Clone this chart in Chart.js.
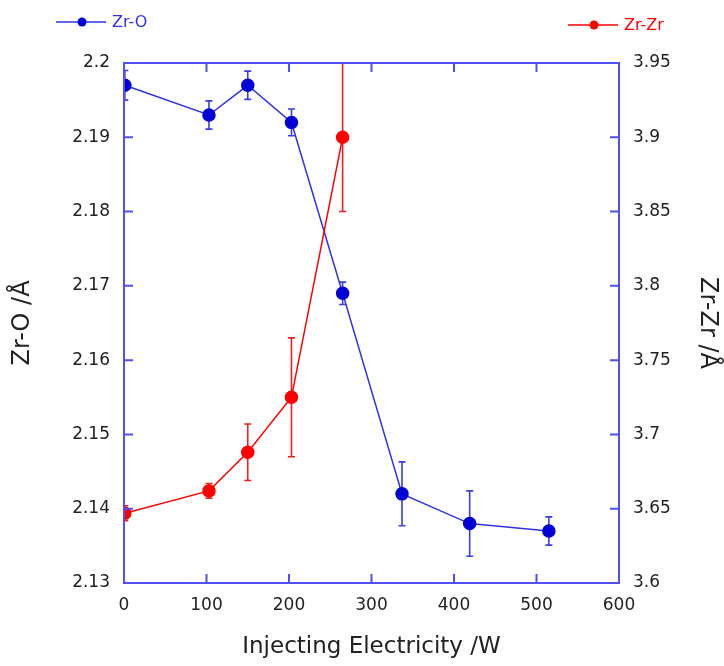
<!DOCTYPE html>
<html>
<head>
<meta charset="utf-8">
<script src="https://cdn.jsdelivr.net/npm/chart.js@4"></script>
<style>
  body { margin: 0; background: white; }
  #wrap { width: 724px; height: 666px; position: relative; }
</style>
</head>
<body>
<div id="wrap"><canvas id="myChart"></canvas></div>
<script>
// data
const wattsZrO = [1, 103, 150, 203, 265, 337, 419, 515];
const zrO = [2.197, 2.193, 2.197, 2.192, 2.169, 2.142, 2.138, 2.137];
const zrOErr = [0.002, 0.0019, 0.0019, 0.0018, 0.0015, 0.0043, 0.0044, 0.0019];

const wattsZrZr = [1, 103, 150, 203, 265];
const zrZr = [3.647, 3.662, 3.688, 3.725, 3.9];
const zrZrErr = [0.005, 0.005, 0.019, 0.04, 0.05];

const frameColor = "rgb(80, 80, 245)";
const font = "'DejaVu Sans', Verdana, sans-serif";

function toPoints(xs, ys) {
  return xs.map(function (x, i) { return { x: x, y: ys[i] }; });
}

// error bars, drawn under the markers
const errorBarPlugin = {
  id: "errorBars",
  beforeDatasetsDraw: function (chart) {
    const ctx = chart.ctx;
    const area = chart.chartArea;
    ctx.save();
    ctx.beginPath();
    ctx.rect(area.left, area.top - 1, area.right - area.left, area.bottom - area.top + 2);
    ctx.clip();
    chart.data.datasets.forEach(function (ds) {
      const xs = chart.scales.x;
      const ys = chart.scales[ds.yAxisID];
      ctx.strokeStyle = ds.errColor;
      ctx.lineWidth = 1.6;
      ds.data.forEach(function (p, i) {
        const e = ds.errors[i];
        const px = xs.getPixelForValue(p.x);
        const top = ys.getPixelForValue(p.y + e);
        const bot = ys.getPixelForValue(p.y - e);
        ctx.beginPath();
        ctx.moveTo(px, top); ctx.lineTo(px, bot);
        ctx.moveTo(px - 3.5, top); ctx.lineTo(px + 3.5, top);
        ctx.moveTo(px - 3.5, bot); ctx.lineTo(px + 3.5, bot);
        ctx.stroke();
      });
    });
    ctx.restore();
  },
};

// box frame with inward ticks on all four sides, plus the split legend
const framePlugin = {
  id: "frame",
  afterDraw: function (chart) {
    const ctx = chart.ctx;
    const a = chart.chartArea;
    const tl = 9;
    ctx.save();
    ctx.strokeStyle = frameColor;
    ctx.lineWidth = 2;
    ctx.strokeRect(a.left, a.top, a.right - a.left, a.bottom - a.top);
    ctx.beginPath();
    chart.scales.x.ticks.forEach(function (t) {
      const px = chart.scales.x.getPixelForValue(t.value);
      ctx.moveTo(px, a.bottom); ctx.lineTo(px, a.bottom - tl);
      ctx.moveTo(px, a.top); ctx.lineTo(px, a.top + tl);
    });
    chart.scales.y.ticks.forEach(function (t) {
      const py = chart.scales.y.getPixelForValue(t.value);
      ctx.moveTo(a.left, py); ctx.lineTo(a.left + tl, py);
    });
    chart.scales.y2.ticks.forEach(function (t) {
      const py = chart.scales.y2.getPixelForValue(t.value);
      ctx.moveTo(a.right, py); ctx.lineTo(a.right - tl, py);
    });
    ctx.stroke();

    // legend entries: first at top left, second at top right
    const spots = [{ x: 56, y: 22 }, { x: 568, y: 25 }];
    chart.data.datasets.forEach(function (ds, i) {
      const s = spots[i];
      ctx.strokeStyle = ds.borderColor;
      ctx.lineWidth = 1.5;
      ctx.beginPath();
      ctx.moveTo(s.x, s.y); ctx.lineTo(s.x + 50, s.y);
      ctx.stroke();
      ctx.fillStyle = ds.pointBackgroundColor;
      ctx.beginPath();
      ctx.arc(s.x + 26, s.y, 4.5, 0, Math.PI * 2);
      ctx.fill();
      ctx.fillStyle = ds.borderColor;
      ctx.font = "16px " + font;
      ctx.textBaseline = "middle";
      ctx.fillText(ds.label, s.x + 56, s.y + 1);
    });
    ctx.restore();
  },
};

const ctx = document.getElementById("myChart").getContext("2d");

new Chart(ctx, {
  type: "scatter",
  data: {
    datasets: [
      {
        label: "Zr-O",
        data: toPoints(wattsZrO, zrO),
        errors: zrOErr,
        errColor: "rgb(60, 60, 230)",
        yAxisID: "y",
        showLine: true,
        borderColor: "rgb(50, 50, 230)",
        borderWidth: 1.5,
        pointBackgroundColor: "rgb(0, 0, 215)",
        pointBorderColor: "rgb(0, 0, 215)",
        pointRadius: 6,
        order: 1,
      },
      {
        label: "Zr-Zr",
        data: toPoints(wattsZrZr, zrZr),
        errors: zrZrErr,
        errColor: "rgb(240, 30, 30)",
        yAxisID: "y2",
        showLine: true,
        borderColor: "rgb(255, 0, 0)",
        borderWidth: 1.5,
        pointBackgroundColor: "rgb(255, 0, 0)",
        pointBorderColor: "rgb(255, 0, 0)",
        pointRadius: 6,
        order: 0,
      },
    ],
  },
  options: {
    responsive: true,
    maintainAspectRatio: false,
    animation: false,
    layout: { padding: { top: 63, left: 0, right: 0, bottom: 0 } },
    plugins: {
      legend: { display: false },
      tooltip: { enabled: false },
    },
    scales: {
      x: {
        type: "linear",
        min: 0,
        max: 600,
        ticks: { stepSize: 100, padding: 12, color: "#222", font: { family: font, size: 17 } },
        grid: { display: false, drawTicks: false },
        border: { display: false },
        title: {
          display: true,
          text: "Injecting Electricity /W",
          color: "#222",
          font: { family: font, size: 23 },
          padding: { top: 0, bottom: 5 },
        },
        afterFit: function (s) { s.height = 83; },
      },
      y: {
        position: "left",
        min: 2.13,
        max: 2.2,
        ticks: {
          stepSize: 0.01,
          padding: 14,
          color: "#222",
          font: { family: font, size: 17 },
          callback: function (v) { return +v.toFixed(2); },
        },
        grid: { display: false, drawTicks: false },
        border: { display: false },
        title: {
          display: true,
          text: "Zr-O /Å",
          color: "#222",
          font: { family: font, size: 24 },
          padding: { top: 8, bottom: 0 },
        },
        afterFit: function (s) { s.width = 124; },
      },
      y2: {
        position: "right",
        min: 3.6,
        max: 3.95,
        ticks: {
          stepSize: 0.05,
          padding: 14,
          color: "#222",
          font: { family: font, size: 17 },
          callback: function (v) { return +v.toFixed(2); },
        },
        grid: { display: false, drawTicks: false },
        border: { display: false },
        title: {
          display: true,
          text: "Zr-Zr /Å",
          color: "#222",
          font: { family: font, size: 24 },
          padding: { top: 2, bottom: 0 },
        },
        afterFit: function (s) { s.width = 105; },
      },
    },
  },
  plugins: [errorBarPlugin, framePlugin],
});
</script>
</body>
</html>
